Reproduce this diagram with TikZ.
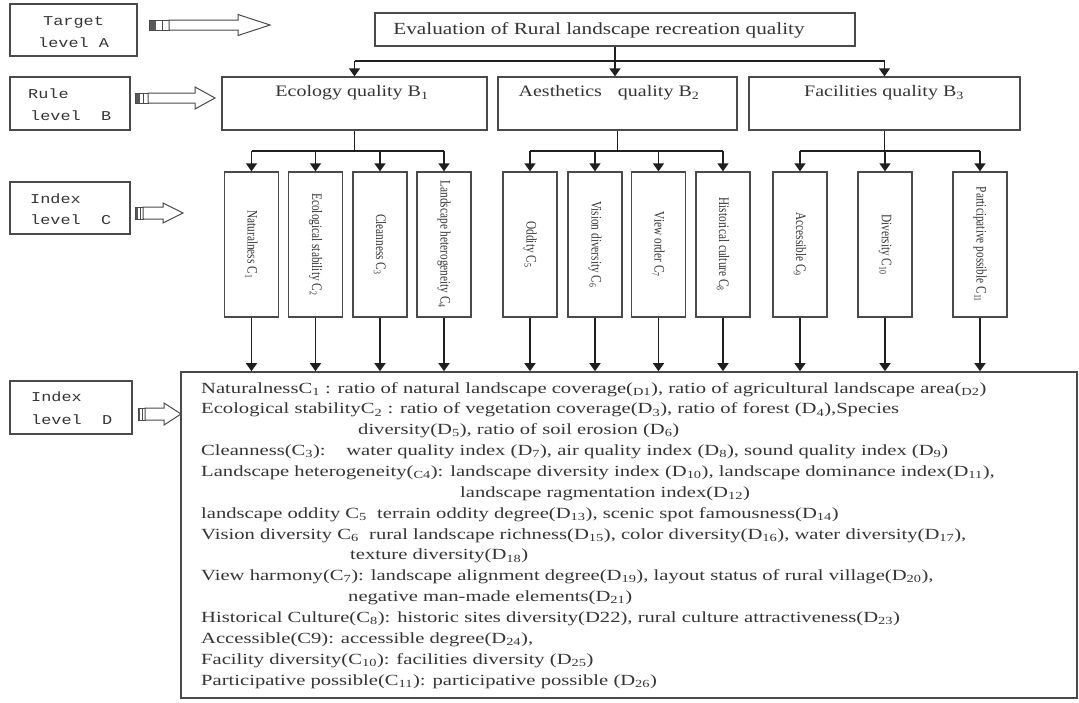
\documentclass[tikz,border=0pt]{standalone}
\usepackage{fontspec}
\setmainfont{Liberation Serif}
\newfontfamily\widefont{Liberation Serif}[FakeStretch=1.25]
\newfontfamily\dfont{Liberation Serif}[FakeStretch=1.33]
\newfontfamily\narrowfont{Liberation Serif}[FakeStretch=0.78]
\newfontfamily\monowide{Liberation Mono}[FakeStretch=1.25]
\usetikzlibrary{arrows.meta}
\definecolor{linec}{HTML}{4A4A4A}
\definecolor{txtc}{HTML}{353535}
\newcommand\stripedarrow[7]{%
  \fill[white] (#1,#5-#6) rectangle (#2,#5+#6);
  \fill[black!65] (#1,#5-#6) rectangle ({#1+(#2-#1)*0.35},#5+#6);
  \draw[linec, line width=0.8pt] (#1,#5-#6) rectangle (#2,#5+#6);
  \draw[linec, line width=0.8pt] ({#1+(#2-#1)*0.65},#5-#6) -- ({#1+(#2-#1)*0.65},#5+#6);
  \draw[linec, line width=1pt, fill=white, line join=miter]
    (#2,#5-#6) -- (#3,#5-#6) -- (#3,#5-#7) -- (#4,#5) -- (#3,#5+#7) -- (#3,#5+#6) -- (#2,#5+#6) -- cycle;
}
\tikzset{
  box/.style={draw=linec, line width=1.3pt, rectangle, inner sep=0pt, fill=white},
  cbox/.style={box, minimum width=54pt, minimum height=145pt, text=txtc,
     font=\narrowfont\fontsize{14.5}{16}\selectfont},
  conn/.style={draw=black!88, line width=1.5pt},
  arr/.style={conn, -{Triangle[length=8pt,width=11pt]}},
  mono/.style={inner sep=0pt, anchor=base west, text=txtc, font=\monowide\fontsize{13.5}{15}\selectfont},
  btext/.style={inner sep=0pt, text=txtc, font=\widefont\fontsize{16}{18}\selectfont},
  dtext/.style={inner sep=0pt, anchor=base west, text=txtc, font=\dfont\fontsize{15.5}{18}\selectfont},
}
\begin{document}
\begin{tikzpicture}[x=1pt,y=-1pt]
\useasboundingbox (0,0) rectangle (1079,702);

% level label boxes
\node[box, minimum width=127pt, minimum height=52pt] (LA) at (73.5,30) {};
\node[mono] (LAt1) at (43,25) {Target};
\node[mono] (LAt2) at (38,47) {level A};
\node[box, minimum width=120pt, minimum height=53pt] (LB) at (70,103.5) {};
\node[mono] (LBt1) at (28,98) {Rule};
\node[mono] (LBt2) at (30,120) {level\ \ B};
\node[box, minimum width=120pt, minimum height=52pt] (LC) at (70,208) {};
\node[mono] (LCt1) at (30,203) {Index};
\node[mono] (LCt2) at (30,224) {level\ \ C};
\node[box, minimum width=122pt, minimum height=53pt] (LD) at (71,407.5) {};
\node[mono] (LDt1) at (31,401) {Index};
\node[mono] (LDt2) at (31,424) {level\ \ D};

% striped hollow arrows
\stripedarrow{149}{169}{238}{270}{25}{5}{10.5}
\stripedarrow{135}{148}{195}{215}{98}{5}{11}
\stripedarrow{135}{143}{163}{183}{213}{6}{10}
\stripedarrow{138}{145}{164}{181}{414}{6}{11}

% target
\node[box, minimum width=480pt, minimum height=33pt] (T) at (615,29.5) {};
\node[btext, font=\widefont\fontsize{17}{19}\selectfont] (Tt) at (599,30) {Evaluation of Rural landscape recreation quality};

% rule level
\node[box, minimum width=265pt, minimum height=53pt] (B1) at (354.5,103.5) {};
\node[box, minimum width=239pt, minimum height=53pt] (B2) at (617.5,103.5) {};
\node[box, minimum width=271pt, minimum height=53pt] (B3) at (884.5,103.5) {};
\node[btext] (B1t) at (352,93) {Ecology quality B\textsubscript{1}};
\node[btext] (B2t) at (609,93) {Aesthetics\quad quality B\textsubscript{2}};
\node[btext] (B3t) at (884,93) {Facilities quality B\textsubscript{3}};

% index level C
\node[cbox] (C1) at (251.5,244.5) {\rotatebox{-90}{Naturalness C\textsubscript{1}}};
\node[cbox] (C2) at (315.5,244.5) {\rotatebox{-90}{Ecological stability C\textsubscript{2}}};
\node[cbox] (C3) at (380,244.5) {\rotatebox{-90}{Cleanness C\textsubscript{3}}};
\node[cbox] (C4) at (444,244.5) {\rotatebox{-90}{Landscape heterogeneity C\textsubscript{4}}};
\node[cbox] (C5) at (530,244.5) {\rotatebox{-90}{Oddity C\textsubscript{5}}};
\node[cbox] (C6) at (595,244.5) {\rotatebox{-90}{Vision diversity C\textsubscript{6}}};
\node[cbox] (C7) at (658.5,244.5) {\rotatebox{-90}{View order C\textsubscript{7}}};
\node[cbox] (C8) at (723,244.5) {\rotatebox{-90}{Historical culture C\textsubscript{8}}};
\node[cbox] (C9) at (800,244.5) {\rotatebox{-90}{Accessible C\textsubscript{9}}};
\node[cbox] (C10) at (885,244.5) {\rotatebox{-90}{Diversity C\textsubscript{10}}};
\node[cbox] (C11) at (980,244.5) {\rotatebox{-90}{Participative possible C\textsubscript{11}}};

% index level D
\node[box, line width=1.6pt, minimum width=896pt, minimum height=326pt] (D) at (629,535) {};
\node[dtext] (d1) at (201,393) {NaturalnessC\textsubscript{1} : ratio of natural landscape coverage(\textsubscript{D1}), ratio of agricultural landscape area(\textsubscript{D2})};
\node[dtext] (d2) at (201,413.9) {Ecological stabilityC\textsubscript{2} : ratio of vegetation coverage(D\textsubscript{3}), ratio of forest (D\textsubscript{4}),Species};
\node[dtext] (d3) at (358,434.7) {diversity(D\textsubscript{5}), ratio of soil erosion (D\textsubscript{6})};
\node[dtext] (d4) at (201,455.6) {Cleanness(C\textsubscript{3}):\quad\ water quality index (D\textsubscript{7}), air quality index (D\textsubscript{8}), sound quality index (D\textsubscript{9})};
\node[dtext] (d5) at (201,476.4) {Landscape heterogeneity(\textsubscript{C4}): landscape diversity index (D\textsubscript{10}), landscape dominance index(D\textsubscript{11}),};
\node[dtext] (d6) at (460,497.3) {landscape ragmentation index(D\textsubscript{12})};
\node[dtext] (d7) at (201,518.2) {landscape oddity C\textsubscript{5}\ \ terrain oddity degree(D\textsubscript{13}), scenic spot famousness(D\textsubscript{14})};
\node[dtext] (d8) at (201,539) {Vision diversity C\textsubscript{6}\ \ rural landscape richness(D\textsubscript{15}), color diversity(D\textsubscript{16}), water diversity(D\textsubscript{17}),};
\node[dtext] (d9) at (350,559.9) {texture diversity(D\textsubscript{18})};
\node[dtext] (d10) at (201,580.7) {View harmony(C\textsubscript{7}): landscape alignment degree(D\textsubscript{19}), layout status of rural village(D\textsubscript{20}),};
\node[dtext] (d11) at (348,601.6) {negative man-made elements(D\textsubscript{21})};
\node[dtext] (d12) at (201,622.5) {Historical Culture(C\textsubscript{8}): historic sites diversity(D22), rural culture attractiveness(D\textsubscript{23})};
\node[dtext] (d13) at (201,643.3) {Accessible(C9): accessible degree(D\textsubscript{24}),};
\node[dtext] (d14) at (201,664.2) {Facility diversity(C\textsubscript{10}): facilities diversity (D\textsubscript{25})};
\node[dtext] (d15) at (201,685) {Participative possible(C\textsubscript{11}): participative possible (D\textsubscript{26})};

% connectors A -> B
\coordinate (hA) at (615,61);
\draw[conn] (hA -| B1.north) -- (hA -| B3.north);
\draw[arr] (hA -| B1.north) -- (B1.north);
\draw[arr] (hA -| B3.north) -- (B3.north);
\draw[arr] (T.south) -- (T.south |- B2.north);

% B -> C
\coordinate (hB) at (0,151);
\draw[conn] (B1.south) -- (B1.south |- hB);
\draw[conn] (B2.south) -- (B2.south |- hB);
\draw[conn] (B3.south) -- (B3.south |- hB);
\draw[conn] (C1.north |- hB) -- (C4.north |- hB);
\draw[conn] (C5.north |- hB) -- (C8.north |- hB);
\draw[conn] (C9.north |- hB) -- (C11.north |- hB);
\foreach \c in {C1,C2,C3,C4,C5,C6,C7,C8,C9,C10,C11}{
  \draw[arr] (\c.north |- hB) -- (\c.north);
  \draw[arr] (\c.south) -- (\c.south |- D.north);
}
\end{tikzpicture}
\end{document}
